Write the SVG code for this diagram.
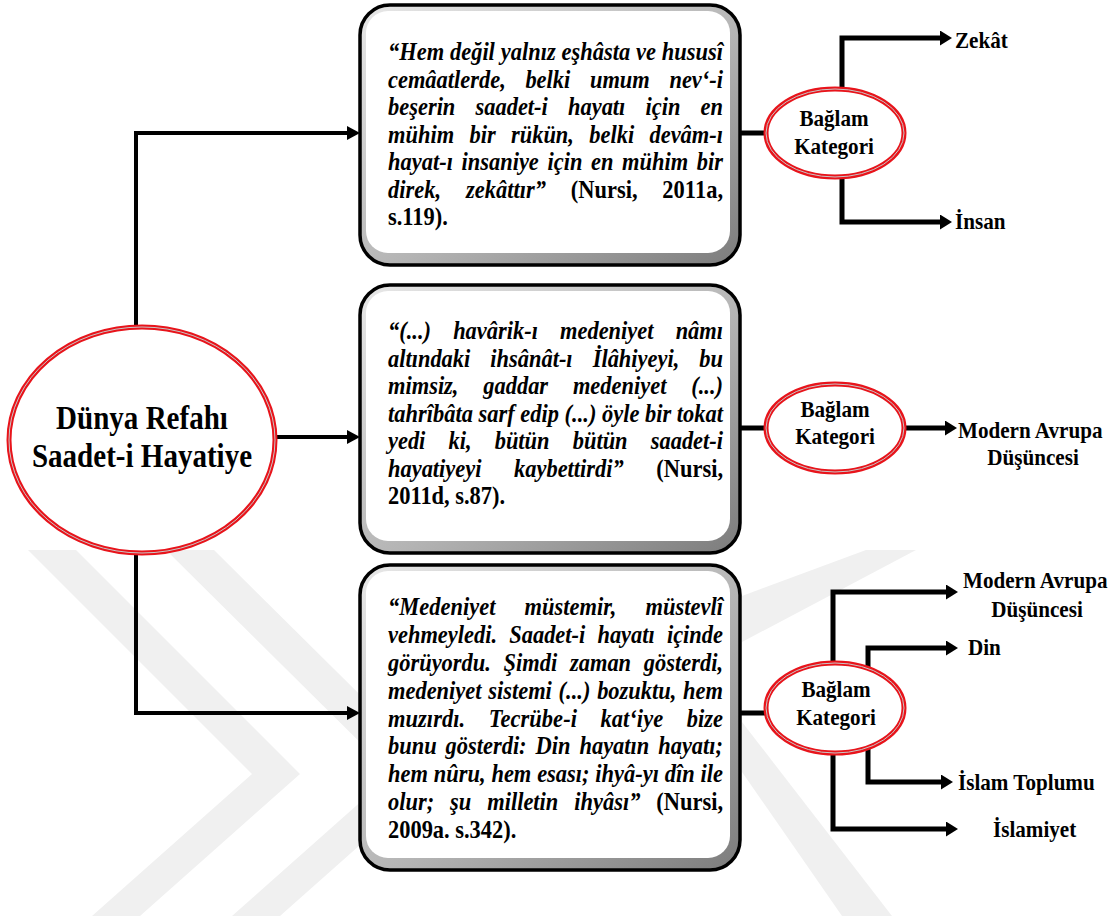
<svg xmlns="http://www.w3.org/2000/svg" width="1118" height="916" viewBox="0 0 1118 916" font-family="Liberation Serif, serif">
  <defs>
    <style>
      .q { font-size: 25.5px; font-weight: bold; font-style: italic; fill: #000; }
      .n { font-style: normal; }
      .lbl { font-size: 24px; font-weight: bold; fill: #000; }
      .main { font-size: 33px; font-weight: bold; fill: #000; }
      .wire { fill: none; stroke: #000; stroke-width: 4; }
      .wire2 { fill: none; stroke: #000; stroke-width: 5; }
      .ring { fill: #fff; stroke: #e8141b; stroke-width: 5; }
      .ring-line { fill: none; stroke: #c8c8c8; stroke-width: 1; }
      .box-outer { fill: url(#bevel); stroke: #000; stroke-width: 3.5; }
      .box-inner { fill: #fff; }
      .wm { fill: #f0f0f0; }
    </style>
    <linearGradient id="bevel" x1="0" y1="0" x2="1" y2="1">
      <stop offset="0" stop-color="#e8e8e8"/>
      <stop offset="0.55" stop-color="#b4b4b4"/>
      <stop offset="1" stop-color="#7c7c7c"/>
    </linearGradient>
    <marker id="head" markerUnits="userSpaceOnUse" markerWidth="14" markerHeight="16" refX="0" refY="7" orient="auto">
      <path d="M0,0 L13,7 L0,14 Z" fill="#000"/>
    </marker>
    <marker id="head2" markerUnits="userSpaceOnUse" markerWidth="14" markerHeight="16" refX="0" refY="7.5" orient="auto">
      <path d="M0,0 L12,7.5 L0,15 Z" fill="#000"/>
    </marker>
  </defs>

  <rect width="1118" height="916" fill="#fff"/>

  <!-- faint background watermark bands -->
  <g id="watermark">
    <polygon class="wm" points="28,550 76,550 300,774 140,916 92,916 252,774"/>
    <polygon class="wm" points="166,550 214,550 440,774 280,916 232,916 392,774"/>
    <polygon class="wm" points="742,596 866,550 916,550 742,642"/>
    <polygon class="wm" points="742,722 742,772 842,916 892,916"/>
  </g>

  <!-- connectors -->
  <g id="connectors">
    <path class="wire" d="M136,328 V133 H347" marker-end="url(#head)"/>
    <path class="wire" d="M276,437 H347" marker-end="url(#head)"/>
    <path class="wire" d="M136,552 V713 H347" marker-end="url(#head)"/>
    <path class="wire2" d="M740,133 H768"/>
    <path class="wire2" d="M740,428 H768"/>
    <path class="wire2" d="M740,713 H768"/>
    <path class="wire2" d="M842,91 V38 H940" marker-end="url(#head2)"/>
    <path class="wire2" d="M842,175 V222 H940" marker-end="url(#head2)"/>
    <path class="wire2" d="M903,428 H945" marker-end="url(#head2)"/>
    <path class="wire2" d="M833,666 V592 H946" marker-end="url(#head2)"/>
    <path class="wire2" d="M868,671 V648 H946" marker-end="url(#head2)"/>
    <path class="wire2" d="M868,745 V782 H941" marker-end="url(#head2)"/>
    <path class="wire2" d="M833,751 V829 H946" marker-end="url(#head2)"/>
  </g>

  <!-- central concept -->
  <g id="node-center">
    <ellipse class="ring" cx="142" cy="440" rx="133" ry="113"/>
    <ellipse class="ring-line" cx="142" cy="440" rx="133" ry="113"/>
    <text class="main" text-anchor="middle" transform="translate(142 429) scale(0.88 1)">Dünya Refahı</text>
    <text class="main" text-anchor="middle" transform="translate(142 467) scale(0.88 1)">Saadet-i Hayatiye</text>
  </g>

  <!-- quote 1: justified lines (word-spacing + textLength), upright citation -->
  <g id="node-quote1">
    <rect class="box-outer" x="360" y="5" width="380" height="260" rx="30"/>
    <rect class="box-inner" x="366" y="11" width="364" height="242" rx="22"/>
    <text class="q" transform="translate(388 60) scale(0.88 1)" word-spacing="0.3" textLength="380.7" lengthAdjust="spacing">“Hem değil yalnız eşhâsta ve hususî</text>
    <text class="q" transform="translate(388 87.5) scale(0.88 1)" word-spacing="15.9" textLength="380.7" lengthAdjust="spacing">cemâatlerde, belki umum nev‘-i</text>
    <text class="q" transform="translate(388 115) scale(0.88 1)" word-spacing="16.5" textLength="380.7" lengthAdjust="spacing">beşerin saadet-i hayatı için en</text>
    <text class="q" transform="translate(388 142.5) scale(0.88 1)" word-spacing="11" textLength="380.7" lengthAdjust="spacing">mühim bir rükün, belki devâm-ı</text>
    <text class="q" transform="translate(388 170) scale(0.88 1)" word-spacing="3.4" textLength="380.7" lengthAdjust="spacing">hayat-ı insaniye için en mühim bir</text>
    <text class="q" transform="translate(388 197.5) scale(0.88 1)" word-spacing="21.6" textLength="380.7" lengthAdjust="spacing">direk, zekâttır” <tspan class="n">(Nursi, 2011a,</tspan></text>
    <text class="q n" transform="translate(388 225) scale(0.88 1)">s.119).</text>
  </g>

  <!-- quote 2 -->
  <g id="node-quote2">
    <rect class="box-outer" x="360" y="285" width="380" height="268" rx="30"/>
    <rect class="box-inner" x="366" y="291" width="364" height="250" rx="22"/>
    <text class="q" transform="translate(388 339) scale(0.88 1)" word-spacing="18.8" textLength="380.7" lengthAdjust="spacing">“(...) havârik-ı medeniyet nâmı</text>
    <text class="q" transform="translate(388 366.5) scale(0.88 1)" word-spacing="16.4" textLength="380.7" lengthAdjust="spacing">altındaki ihsânât-ı İlâhiyeyi, bu</text>
    <text class="q" transform="translate(388 394) scale(0.88 1)" word-spacing="21.8" textLength="380.7" lengthAdjust="spacing">mimsiz, gaddar medeniyet (...)</text>
    <text class="q" transform="translate(388 421.5) scale(0.88 1)" textLength="380.7" lengthAdjust="spacing">tahrîbâta sarf edip (...) öyle bir tokat</text>
    <text class="q" transform="translate(388 449) scale(0.88 1)" word-spacing="19.9" textLength="380.7" lengthAdjust="spacing">yedi ki, bütün bütün saadet-i</text>
    <text class="q" transform="translate(388 476.5) scale(0.88 1)" word-spacing="30.6" textLength="380.7" lengthAdjust="spacing">hayatiyeyi kaybettirdi” <tspan class="n">(Nursi,</tspan></text>
    <text class="q n" transform="translate(388 504) scale(0.88 1)">2011d, s.87).</text>
  </g>

  <!-- quote 3 -->
  <g id="node-quote3">
    <rect class="box-outer" x="360" y="565" width="380" height="305" rx="30"/>
    <rect class="box-inner" x="366" y="571" width="364" height="287" rx="22"/>
    <text class="q" transform="translate(388 615) scale(0.88 1)" word-spacing="26.4" textLength="380.7" lengthAdjust="spacing">“Medeniyet müstemir, müstevlî</text>
    <text class="q" transform="translate(388 643) scale(0.88 1)" word-spacing="7.4" textLength="380.7" lengthAdjust="spacing">vehmeyledi. Saadet-i hayatı içinde</text>
    <text class="q" transform="translate(388 671) scale(0.88 1)" word-spacing="8.1" textLength="380.7" lengthAdjust="spacing">görüyordu. Şimdi zaman gösterdi,</text>
    <text class="q" transform="translate(388 699) scale(0.88 1)" word-spacing="1.3" textLength="380.7" lengthAdjust="spacing">medeniyet sistemi (...) bozuktu, hem</text>
    <text class="q" transform="translate(388 727) scale(0.88 1)" word-spacing="20.2" textLength="380.7" lengthAdjust="spacing">muzırdı. Tecrübe-i kat‘iye bize</text>
    <text class="q" transform="translate(388 754) scale(0.88 1)" word-spacing="3.8" textLength="380.7" lengthAdjust="spacing">bunu gösterdi: Din hayatın hayatı;</text>
    <text class="q" transform="translate(388 782) scale(0.88 1)" word-spacing="0.3" textLength="380.7" lengthAdjust="spacing">hem nûru, hem esası; ihyâ-yı dîn ile</text>
    <text class="q" transform="translate(388 810) scale(0.88 1)" word-spacing="11.7" textLength="380.7" lengthAdjust="spacing">olur; şu milletin ihyâsı” <tspan class="n">(Nursi,</tspan></text>
    <text class="q n" transform="translate(388 838) scale(0.88 1)">2009a. s.342).</text>
  </g>

  <!-- context categories -->
  <g id="node-context1">
    <ellipse class="ring" cx="835" cy="133" rx="69" ry="44"/>
    <ellipse class="ring-line" cx="835" cy="133" rx="69" ry="44"/>
    <text class="lbl" text-anchor="middle" transform="translate(834 126) scale(0.88 1)">Bağlam</text>
    <text class="lbl" text-anchor="middle" transform="translate(834 154) scale(0.88 1)">Kategori</text>
  </g>
  <g id="node-context2">
    <ellipse class="ring" cx="835" cy="428" rx="69" ry="44"/>
    <ellipse class="ring-line" cx="835" cy="428" rx="69" ry="44"/>
    <text class="lbl" text-anchor="middle" transform="translate(835 417) scale(0.88 1)">Bağlam</text>
    <text class="lbl" text-anchor="middle" transform="translate(835 444) scale(0.88 1)">Kategori</text>
  </g>
  <g id="node-context3">
    <ellipse class="ring" cx="835" cy="708" rx="69" ry="45"/>
    <ellipse class="ring-line" cx="835" cy="708" rx="69" ry="45"/>
    <text class="lbl" text-anchor="middle" transform="translate(836 697) scale(0.88 1)">Bağlam</text>
    <text class="lbl" text-anchor="middle" transform="translate(836 725) scale(0.88 1)">Kategori</text>
  </g>

  <!-- outcome labels -->
  <g id="node-zekat"><text class="lbl" transform="translate(955 48) scale(0.88 1)">Zekât</text></g>
  <g id="node-insan"><text class="lbl" transform="translate(955 229) scale(0.88 1)">İnsan</text></g>
  <g id="node-avrupa1">
    <text class="lbl" transform="translate(958 438) scale(0.88 1)">Modern Avrupa</text>
    <text class="lbl" text-anchor="middle" transform="translate(1033 465) scale(0.88 1)">Düşüncesi</text>
  </g>
  <g id="node-avrupa2">
    <text class="lbl" transform="translate(963 588) scale(0.88 1)">Modern Avrupa</text>
    <text class="lbl" text-anchor="middle" transform="translate(1037 617) scale(0.88 1)">Düşüncesi</text>
  </g>
  <g id="node-din"><text class="lbl" transform="translate(968 655) scale(0.88 1)">Din</text></g>
  <g id="node-islam-toplumu"><text class="lbl" transform="translate(958 790) scale(0.88 1)">İslam Toplumu</text></g>
  <g id="node-islamiyet"><text class="lbl" transform="translate(993 837) scale(0.88 1)">İslamiyet</text></g>
</svg>
